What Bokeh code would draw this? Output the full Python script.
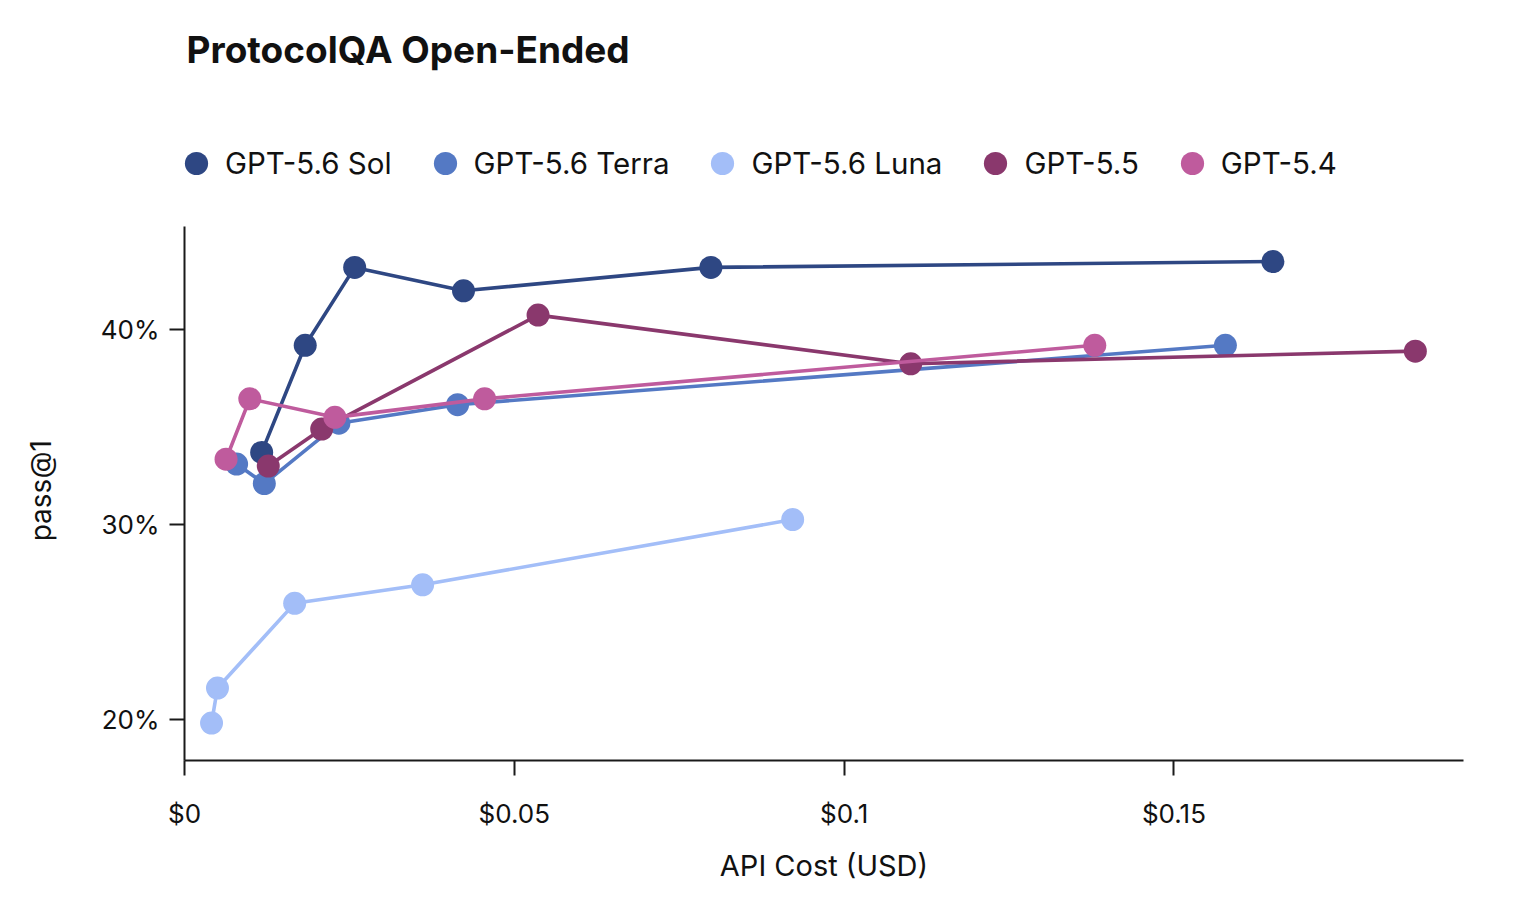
from bokeh.plotting import figure
from bokeh.models import Range1d, FixedTicker, Legend, LegendItem, Label
from bokeh.embed import file_html
from bokeh.resources import INLINE

# ---- data ----
series_names = ["GPT-5.6 Sol", "GPT-5.6 Terra", "GPT-5.6 Luna", "GPT-5.5", "GPT-5.4"]
series_colors = ["#2E4783", "#5479C4", "#A3BEF8", "#8A386D", "#BF5B9D"]

sol_cost = [0.0117, 0.0183, 0.0258, 0.0423, 0.0798, 0.1650]
sol_pass = [33.7, 39.2, 43.2, 42.0, 43.2, 43.5]

terra_cost = [0.0079, 0.0121, 0.0234, 0.0414, 0.1578]
terra_pass = [33.1, 32.1, 35.2, 36.15, 39.2]

luna_cost = [0.0041, 0.0050, 0.0167, 0.0361, 0.0922]
luna_pass = [19.8, 21.6, 25.95, 26.9, 30.25]

gpt55_cost = [0.0127, 0.0208, 0.0536, 0.1101, 0.1866]
gpt55_pass = [33.0, 34.9, 40.75, 38.25, 38.9]

gpt54_cost = [0.0063, 0.0099, 0.0228, 0.0455, 0.1380]
gpt54_pass = [33.35, 36.45, 35.5, 36.45, 39.2]

x_ticks = [0, 0.05, 0.1, 0.15]
x_tick_labels = ["$0", "$0.05", "$0.1", "$0.15"]
y_ticks = [20, 30, 40]
y_tick_labels = ["20%", "30%", "40%"]

FONT = "Inter"
TXT = "#111111"
AX = "#1a1a1a"

# plotting area spans the whole upper part; the y axis line is bounded to the data zone
Y_LO, Y_HI = 17.88, 45.3
Y_TOP = 56.905

p = figure(width=1500, height=890, output_backend="svg", toolbar_location=None,
           x_range=Range1d(0, 0.1939), y_range=Range1d(Y_LO, Y_TOP),
           min_border_left=184, min_border_right=37,
           min_border_top=0, min_border_bottom=130)
p.outline_line_color = None
p.grid.visible = False
p.background_fill_color = "white"
p.border_fill_color = "white"

all_series = [(sol_cost, sol_pass), (terra_cost, terra_pass), (luna_cost, luna_pass),
              (gpt55_cost, gpt55_pass), (gpt54_cost, gpt54_pass)]
items = []
for (xs, ys), name, col in zip(all_series, series_names, series_colors):
    p.line(xs, ys, line_color=col, line_width=3.6)
    r = p.scatter(xs, ys, marker="circle", size=23, fill_color=col, line_color=col, line_width=0)
    items.append(LegendItem(label=name, renderers=[r]))

# axes
p.xaxis.ticker = FixedTicker(ticks=x_ticks)
p.xaxis.major_label_overrides = dict(zip(x_ticks, x_tick_labels))
p.yaxis.ticker = FixedTicker(ticks=y_ticks)
p.yaxis.major_label_overrides = dict(zip(y_ticks, y_tick_labels))
p.yaxis.bounds = (Y_LO, Y_HI)
for ax in (p.xaxis[0], p.yaxis[0]):
    ax.axis_line_color = AX
    ax.axis_line_width = 2
    ax.major_tick_line_color = AX
    ax.major_tick_line_width = 2
    ax.major_tick_out = 15
    ax.major_tick_in = 0
    ax.minor_tick_in = 0
    ax.minor_tick_out = 0
    ax.major_label_text_font = FONT
    ax.major_label_text_font_size = "26px"
    ax.major_label_text_color = TXT
    ax.axis_label_text_font = FONT
    ax.axis_label_text_font_style = "normal"
    ax.axis_label_text_color = TXT
p.xaxis.axis_label = "API Cost (USD)"
# trailing no-break spaces move the (frame-centred) label down to the data zone centre
p.yaxis.axis_label = "pass@1" + "\u00a0" * 28
p.xaxis.axis_label_text_font_size = "29px"
p.yaxis.axis_label_text_font_size = "28px"
p.xaxis.major_label_standoff = 22
p.xaxis.axis_label_standoff = 16
p.yaxis.major_label_standoff = 10
p.yaxis.axis_label_standoff = 40

# title
title = Label(x=2, y=711, x_units="screen", y_units="screen", text="ProtocolQA Open-Ended",
              text_font=FONT, text_font_size="37px", text_font_style="bold",
              text_color=TXT, text_baseline="alphabetic", text_align="left")
p.add_layout(title)

legend = Legend(items=items, orientation="horizontal", location=(-17, 568),
                glyph_width=58, glyph_height=58, label_standoff=-3, spacing=24,
                padding=0, margin=0, border_line_color=None, background_fill_alpha=0,
                label_text_font=FONT, label_text_font_size="29.5px", label_text_color=TXT)
p.add_layout(legend)

open("out.html", "w").write(file_html(p, INLINE))
